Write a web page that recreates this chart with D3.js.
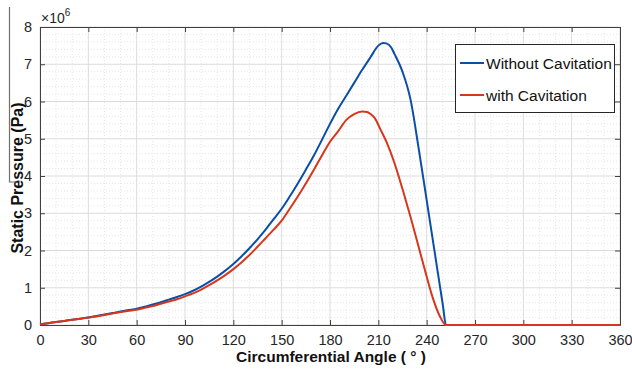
<!DOCTYPE html>
<html>
<head>
<meta charset="utf-8">
<script src="https://cdn.jsdelivr.net/npm/d3@7"></script>
<style>
  html, body { margin: 0; padding: 0; background: #fff; }
  svg { display: block; font-family: "Liberation Sans", Arial, sans-serif; }
</style>
</head>
<body>
<svg id="chart" width="632" height="369"></svg>
<script>
// Values (pressure in units of 1e6 Pa)
const anglesWithout = [0, 5, 10, 15, 20, 25, 30, 35, 40, 45, 50, 55, 60, 65, 70, 75, 80, 85, 90, 95,
  100, 105, 110, 115, 120, 125, 130, 135, 140, 145, 150, 155, 160, 165, 170, 175, 180, 185, 190, 195,
  200, 205, 210, 213, 215, 218, 220, 225, 230, 235, 240, 245, 250, 252, 360];
const pressureWithout = [0.02, 0.05, 0.08, 0.11, 0.14, 0.17, 0.20, 0.24, 0.28, 0.32, 0.36, 0.40, 0.44, 0.49, 0.55, 0.61, 0.68, 0.75, 0.83, 0.92,
  1.03, 1.16, 1.30, 1.46, 1.64, 1.84, 2.06, 2.30, 2.56, 2.84, 3.12, 3.45, 3.80, 4.17, 4.55, 4.97, 5.40, 5.80, 6.15, 6.50,
  6.85, 7.18, 7.50, 7.57, 7.56, 7.45, 7.28, 6.80, 6.05, 4.75, 3.35, 1.95, 0.55, 0.0, 0.0];

const anglesWith = [0, 5, 10, 15, 20, 25, 30, 35, 40, 45, 50, 55, 60, 65, 70, 75, 80, 85, 90, 95,
  100, 105, 110, 115, 120, 125, 130, 135, 140, 145, 150, 155, 160, 165, 170, 175, 180, 185, 190, 195,
  200, 203, 205, 208, 211, 215, 220, 225, 230, 235, 240, 244, 248, 252, 360];
const pressureWith = [0.02, 0.05, 0.08, 0.11, 0.14, 0.17, 0.20, 0.23, 0.27, 0.31, 0.35, 0.38, 0.41, 0.46, 0.51, 0.57, 0.63, 0.69, 0.77, 0.85,
  0.95, 1.07, 1.20, 1.34, 1.50, 1.68, 1.88, 2.10, 2.33, 2.56, 2.80, 3.12, 3.45, 3.80, 4.17, 4.55, 4.92, 5.20, 5.50, 5.66,
  5.73, 5.72, 5.67, 5.54, 5.28, 4.92, 4.35, 3.65, 2.90, 2.10, 1.30, 0.70, 0.25, 0.0, 0.0];

const xTicks = [0, 30, 60, 90, 120, 150, 180, 210, 240, 270, 300, 330, 360];
const yTicks = [0, 1, 2, 3, 4, 5, 6, 7, 8];
const seriesNames = ["Without Cavitation", "with Cavitation"];
const seriesColors = ["#0a4ea8", "#d8361b"];

const svg = d3.select("#chart");
const plotLeft = 40, plotRight = 620, plotTop = 27, plotBottom = 325;

const x = d3.scaleLinear().domain([0, 360]).range([plotLeft, plotRight]);
const y = d3.scaleLinear().domain([0, 8]).range([plotBottom, plotTop]);

// minor grid
const g = svg.append("g");
g.selectAll(".mx").data(d3.range(0, 361, 10).filter(d => d % 30 !== 0)).join("line")
  .attr("x1", d => x(d)).attr("x2", d => x(d)).attr("y1", plotTop).attr("y2", plotBottom)
  .attr("stroke", "#e6e6e6").attr("stroke-width", 1).attr("stroke-dasharray", "1,2");
g.selectAll(".my").data(d3.range(0, 8.01, 0.2).filter(d => Math.abs(d - Math.round(d)) > 0.01)).join("line")
  .attr("x1", plotLeft).attr("x2", plotRight).attr("y1", d => y(d)).attr("y2", d => y(d))
  .attr("stroke", "#e6e6e6").attr("stroke-width", 1).attr("stroke-dasharray", "1,2");

// major grid
g.selectAll(".gx").data(xTicks).join("line")
  .attr("x1", d => x(d)).attr("x2", d => x(d)).attr("y1", plotTop).attr("y2", plotBottom)
  .attr("stroke", "#dcdcdc").attr("stroke-width", 1);
g.selectAll(".gy").data(yTicks).join("line")
  .attr("x1", plotLeft).attr("x2", plotRight).attr("y1", d => y(d)).attr("y2", d => y(d))
  .attr("stroke", "#dcdcdc").attr("stroke-width", 1);

// axes (ticks pointing inward, box on)
const axisColor = "#404040";
function styleAxis(sel) {
  sel.selectAll("path.domain").attr("stroke", axisColor).attr("stroke-width", 1);
  sel.selectAll(".tick line").attr("stroke", axisColor);
  sel.selectAll(".tick text").attr("fill", "#262626").style("font-size", "14.5px")
    .style("font-family", "'Liberation Sans', Arial, sans-serif");
}
const xAxis = svg.append("g").attr("transform", `translate(0,${plotBottom})`)
  .call(d3.axisBottom(x).tickValues(xTicks).tickSize(-5).tickPadding(10).tickSizeOuter(0));
styleAxis(xAxis);
const xAxisTop = svg.append("g").attr("transform", `translate(0,${plotTop})`)
  .call(d3.axisTop(x).tickValues(xTicks).tickSize(-5).tickFormat("").tickSizeOuter(0));
styleAxis(xAxisTop);
const yAxis = svg.append("g").attr("transform", `translate(${plotLeft},0)`)
  .call(d3.axisLeft(y).tickValues(yTicks).tickSize(-5).tickPadding(8).tickSizeOuter(0));
styleAxis(yAxis);
const yAxisRight = svg.append("g").attr("transform", `translate(${plotRight},0)`)
  .call(d3.axisRight(y).tickValues(yTicks).tickSize(-5).tickFormat("").tickSizeOuter(0));
styleAxis(yAxisRight);

// exponent label
const expo = svg.append("text").attr("x", plotLeft + 1).attr("y", plotTop - 4)
  .attr("fill", "#262626").style("font-size", "14px");
expo.append("tspan").text("\u00d710");
expo.append("tspan").attr("dy", -7).style("font-size", "10px").text("6");

// series lines
const line = d3.line().x(d => x(d[0])).y(d => y(d[1])).curve(d3.curveMonotoneX);
const series = [
  d3.zip(anglesWithout, pressureWithout),
  d3.zip(anglesWith, pressureWith)
];
svg.selectAll(".series").data(series).join("path")
  .attr("d", line)
  .attr("fill", "none")
  .attr("stroke", (d, i) => seriesColors[i])
  .attr("stroke-width", 2)
  .attr("stroke-linejoin", "round");

// axis titles
svg.append("text").attr("x", (plotLeft + plotRight) / 2 + 1).attr("y", 362)
  .attr("text-anchor", "middle").attr("font-weight", "bold").style("font-size", "15.5px")
  .attr("fill", "#111").text("Circumferential Angle ( \u00b0 )");
svg.append("text").attr("transform", `translate(23,178) rotate(-90)`)
  .attr("text-anchor", "middle").attr("font-weight", "bold").style("font-size", "16px")
  .attr("fill", "#111").text("Static Pressure (Pa)");

// stray frame line at the left edge of the picture
svg.append("path").attr("d", "M9.5,7V182H17").attr("fill", "none")
  .attr("stroke", "#707070").attr("stroke-width", 1.2);

// legend
const legend = svg.append("g");
legend.append("rect").attr("x", 455.5).attr("y", 44.5).attr("width", 159).attr("height", 68)
  .attr("fill", "#fff").attr("stroke", "#262626").attr("stroke-width", 1);
seriesNames.forEach((name, i) => {
  const ly = 63 + i * 32;
  legend.append("line").attr("x1", 460).attr("x2", 484).attr("y1", ly).attr("y2", ly)
    .attr("stroke", seriesColors[i]).attr("stroke-width", 2);
  legend.append("text").attr("x", 486).attr("y", ly + 5.5).style("font-size", "15.5px")
    .attr("fill", "#111").text(name);
});
</script>
</body>
</html>
